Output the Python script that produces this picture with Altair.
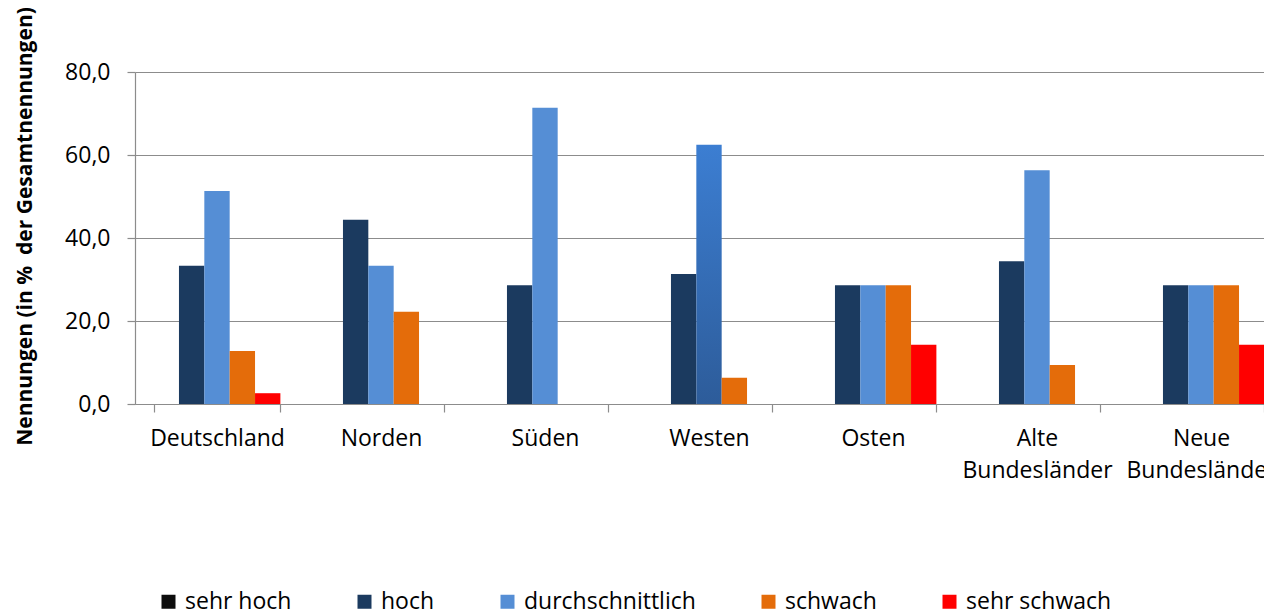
import altair as alt
import pandas as pd

regions = ["Deutschland", "Norden", "Süden", "Westen", "Osten",
           "Alte Bundesländer", "Neue Bundesländer"]
series = ["sehr hoch", "hoch", "durchschnittlich", "schwach", "sehr schwach"]

sehr_hoch = [0, 0, 0, 0, 0, 0, 0]
hoch = [33.3, 44.4, 28.6, 31.3, 28.6, 34.4, 28.6]
durchschnittlich = [51.3, 33.3, 71.4, 62.5, 28.6, 56.3, 28.6]
schwach = [12.8, 22.2, 0, 6.3, 28.6, 9.4, 28.6]
sehr_schwach = [2.6, 0, 0, 0, 14.3, 0, 14.3]

colors = ["#0D0D0D", "#1B3A5F", "#558ED5", "#E46C0A", "#FF0000"]
y_ticks = [0, 20, 40, 60, 80]

rows = []
for i, r in enumerate(regions):
    for s, vals in zip(series, [sehr_hoch, hoch, durchschnittlich, schwach, sehr_schwach]):
        rows.append({"region": r, "serie": s, "wert": vals[i]})
df = pd.DataFrame(rows)

FONT = "Open Sans"
GRID = "#8C8C8C"

grad = alt.Gradient(
    gradient="linear", x1=0, y1=0, x2=0, y2=1,
    stops=[alt.GradientStop(color="#3C7ED2", offset=0),
           alt.GradientStop(color="#2D5C9A", offset=1)],
)

chart = alt.Chart(df).mark_bar().encode(
    x=alt.X(
        "region:N", sort=regions,
        scale=alt.Scale(paddingInner=0.227, paddingOuter=0.1135, range=[0, 1148]),
        axis=alt.Axis(
            title=None, labelAngle=0, tickBand="extent", grid=False,
            labelFont=FONT, labelFontSize=23, labelColor="#000000",
            labelExpr="split(datum.label, ' ')", labelLineHeight=32,
            labelPadding=15, tickSize=8, tickColor=GRID, domainColor=GRID,
            tickWidth=1.2, domainWidth=1.2, labelBaseline="top",
            labelLimit=400, labelOverlap=False,
        ),
    ),
    xOffset=alt.XOffset("serie:N", sort=series,
                        scale=alt.Scale(paddingInner=0, paddingOuter=0)),
    y=alt.Y(
        "wert:Q", scale=alt.Scale(domain=[0, 80]),
        axis=alt.Axis(
            values=y_ticks, title="Nennungen (in %\u00a0 der Gesamtnennungen)",
            titleFont=FONT, titleFontSize=21, titleFontWeight="bold",
            titleColor="#000000", titleX=-100, titleY=154,
            labelFont=FONT, labelFontSize=23, labelColor="#000000",
            labelExpr="replace(format(datum.value, '.1f'), '.', ',')",
            labelPadding=17, tickSize=8, tickColor=GRID, domainColor=GRID,
            gridColor=GRID, gridWidth=1.2, tickWidth=1.2, domainWidth=1.2,
        ),
    ),
    color=alt.condition(
        "datum.region == 'Westen' && datum.serie == 'durchschnittlich'",
        alt.value(grad),
        alt.Color(
            "serie:N", sort=series,
            scale=alt.Scale(domain=series, range=colors),
            legend=alt.Legend(
                title=None, orient="none", legendX=22, legendY=518,
                direction="horizontal", symbolType="square", symbolSize=196,
                symbolStrokeWidth=0, labelFont=FONT, labelFontSize=23,
                labelColor="#000000", columnPadding=61, labelOffset=5,
                padding=0, columns=5, labelLimit=400,
            ),
        ),
    ),
).properties(
    width=1129, height=332,
    autosize=alt.AutoSizeParams(type="none"),
    padding={"top": 64, "left": 127, "right": 0, "bottom": 208},
).configure_view(stroke=None)

chart.save("out.html", embed_options={"renderer": "svg", "actions": False})
